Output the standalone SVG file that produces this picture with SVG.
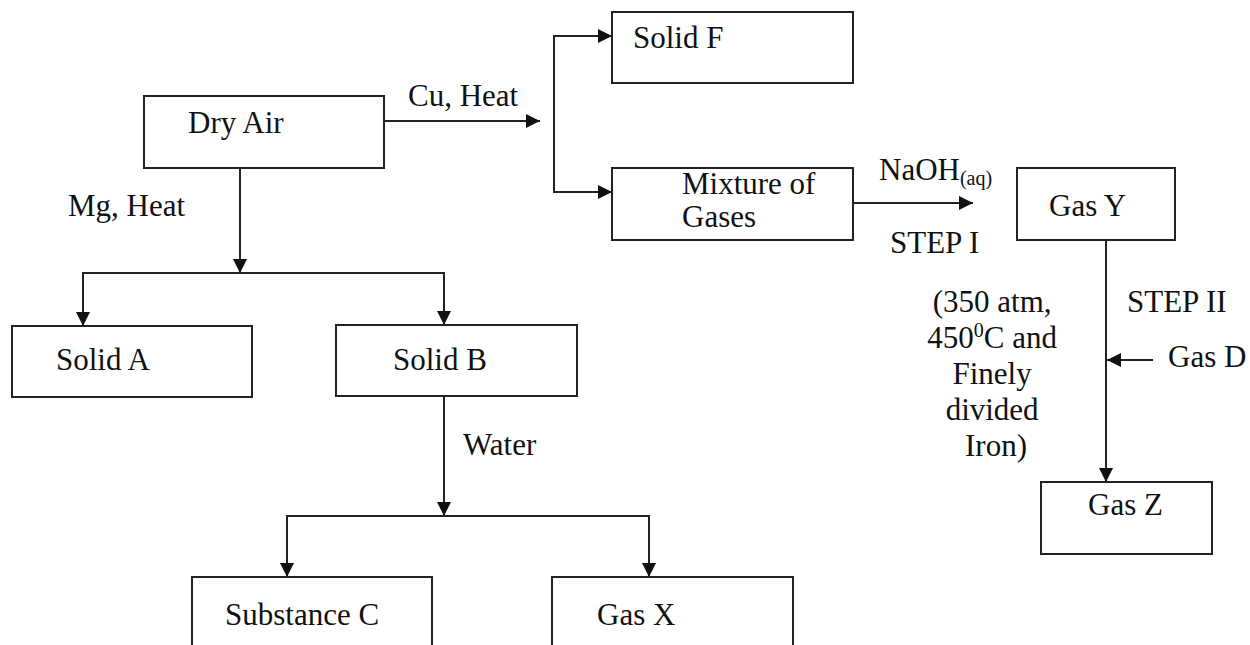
<svg xmlns="http://www.w3.org/2000/svg" width="1250" height="645" viewBox="0 0 1250 645" font-family="'Liberation Serif', 'Times New Roman', 'DejaVu Serif', serif">
  <style>
    .box { fill: #fff; stroke: #222; stroke-width: 2; }
    .ln { fill: none; stroke: #222; stroke-width: 2; }
    .t { font-family: 'Liberation Serif', 'Times New Roman', 'DejaVu Serif', serif; font-size: 31px; fill: #111; }
    .sub { font-size: 20px; }
  </style>
  <defs>
    <marker id="ah" viewBox="0 0 14 14" markerWidth="14" markerHeight="14" refX="14" refY="7" orient="auto" markerUnits="userSpaceOnUse">
      <path d="M0,0 L14,7 L0,14 z" fill="#111"/>
    </marker>
  </defs>
  <rect width="1250" height="645" fill="#fff"/>

  <g id="connectors">
    <line class="ln" x1="384" y1="121" x2="540" y2="121" marker-end="url(#ah)"/>
    <line class="ln" x1="554" y1="36" x2="554" y2="192"/>
    <line class="ln" x1="553" y1="36" x2="612" y2="36" marker-end="url(#ah)"/>
    <line class="ln" x1="553" y1="192" x2="612" y2="192" marker-end="url(#ah)"/>
    <line class="ln" x1="853" y1="203" x2="973" y2="203" marker-end="url(#ah)"/>
    <line class="ln" x1="1106" y1="240" x2="1106" y2="482" marker-end="url(#ah)"/>
    <line class="ln" x1="1153" y1="360" x2="1107" y2="360" marker-end="url(#ah)"/>
    <line class="ln" x1="240" y1="168" x2="240" y2="273" marker-end="url(#ah)"/>
    <line class="ln" x1="83" y1="273" x2="445" y2="273"/>
    <line class="ln" x1="83" y1="272" x2="83" y2="326" marker-end="url(#ah)"/>
    <line class="ln" x1="444" y1="272" x2="444" y2="325" marker-end="url(#ah)"/>
    <line class="ln" x1="444" y1="396" x2="444" y2="516" marker-end="url(#ah)"/>
    <line class="ln" x1="287" y1="516" x2="650" y2="516"/>
    <line class="ln" x1="287" y1="515" x2="287" y2="577" marker-end="url(#ah)"/>
    <line class="ln" x1="649" y1="515" x2="649" y2="577" marker-end="url(#ah)"/>
  </g>

  <g id="labels">
    <text class="t" x="408" y="106">Cu, Heat</text>
    <text class="t" x="68" y="216">Mg, Heat</text>
    <text class="t" x="879" y="180">NaOH<tspan class="sub" dy="5">(aq)</tspan></text>
    <text class="t" x="890" y="253">STEP I</text>
    <text class="t" x="1127" y="312">STEP II</text>
    <text class="t" x="1168" y="367">Gas D</text>
    <text class="t" x="463" y="455">Water</text>
    <text class="t" text-anchor="middle">
      <tspan x="996" y="312">(350 atm,</tspan>
      <tspan x="996" y="348">450<tspan class="sub" dy="-11">0</tspan><tspan dy="11">C and</tspan></tspan>
      <tspan x="996" y="384">Finely</tspan>
      <tspan x="996" y="420">divided</tspan>
      <tspan x="996" y="456">Iron)</tspan>
    </text>
  </g>

  <g id="dry-air">
    <rect class="box" x="144" y="96" width="240" height="72"/>
    <text class="t" x="188" y="133">Dry Air</text>
  </g>
  <g id="solid-f">
    <rect class="box" x="612" y="12" width="241" height="71"/>
    <text class="t" x="633" y="48">Solid F</text>
  </g>
  <g id="mixture">
    <rect class="box" x="612" y="168" width="241" height="72"/>
    <text class="t" x="682" y="194" font-size="29">Mixture of</text>
    <text class="t" x="682" y="227" font-size="29">Gases</text>
  </g>
  <g id="gas-y">
    <rect class="box" x="1017" y="168" width="158" height="72"/>
    <text class="t" x="1049" y="216">Gas Y</text>
  </g>
  <g id="gas-z">
    <rect class="box" x="1041" y="482" width="171" height="72"/>
    <text class="t" x="1088" y="515">Gas Z</text>
  </g>
  <g id="solid-a">
    <rect class="box" x="12" y="326" width="240" height="71"/>
    <text class="t" x="56" y="370">Solid A</text>
  </g>
  <g id="solid-b">
    <rect class="box" x="336" y="325" width="241" height="71"/>
    <text class="t" x="393" y="370">Solid B</text>
  </g>
  <g id="substance-c">
    <rect class="box" x="192" y="577" width="240" height="90"/>
    <text class="t" x="225" y="625">Substance C</text>
  </g>
  <g id="gas-x">
    <rect class="box" x="552" y="577" width="241" height="90"/>
    <text class="t" x="597" y="625">Gas X</text>
  </g>
</svg>
